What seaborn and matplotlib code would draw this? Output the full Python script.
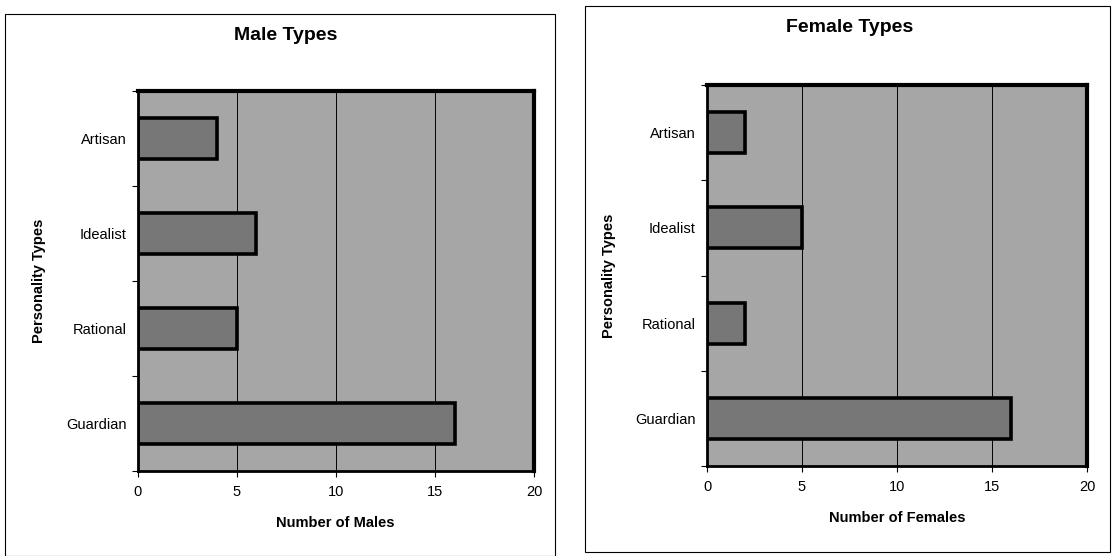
import numpy as np
import pandas as pd
import seaborn as sns
import matplotlib.pyplot as plt
from matplotlib.patches import Rectangle

types = ["Artisan", "Idealist", "Rational", "Guardian"]
males = [4, 6, 5, 16]
females = [2, 5, 2, 16]

sns.set_style("white", {"text.color": "black", "axes.labelcolor": "black",
                        "xtick.color": "black", "ytick.color": "black"})
plt.rcParams['font.family'] = ['Liberation Sans', 'DejaVu Sans']

fig = plt.figure(figsize=(11.14, 5.56), dpi=100)

# panel borders
fig.add_artist(Rectangle((5 / 1114, 0.0), 550 / 1114, 1 - 14 / 556, transform=fig.transFigure,
                         fill=False, edgecolor="black", linewidth=0.8))
fig.add_artist(Rectangle((585 / 1114, 4 / 556), 525 / 1114, 1 - 10 / 556, transform=fig.transFigure,
                         fill=False, edgecolor="black", linewidth=0.8))

ax1 = fig.add_axes([137.5 / 1114, 1 - 471 / 556, 396.5 / 1114, 380 / 556])
ax2 = fig.add_axes([707 / 1114, 1 - 466 / 556, 380 / 1114, 381 / 556])


def draw(ax, vals, xlabel):
    df = pd.DataFrame({"type": types, "n": vals})
    ax.set_facecolor("#a6a6a6")
    for x in [5, 10, 15]:
        ax.axvline(x, color="black", linewidth=0.7, zorder=0.5)
    sns.barplot(data=df, x="n", y="type", order=types, orient="h", ax=ax,
                color="#777777", saturation=1, width=0.43,
                edgecolor="black", linewidth=2.6, zorder=2)
    ax.set_xlim(0, 20)
    ax.set_ylim(3.5, -0.5)
    ax.set_xticks([0, 5, 10, 15, 20])
    ax.tick_params(axis="x", length=4, width=0.8, direction="out", labelsize=10.5, pad=6, bottom=True)
    ax.tick_params(axis="y", which="major", length=0, labelsize=10.5, pad=8)
    ax.set_yticks([-0.5, 0.5, 1.5, 2.5, 3.5], minor=True)
    ax.tick_params(axis="y", which="minor", length=4, width=0.8, direction="out", left=True)
    for side in ["left", "bottom"]:
        ax.spines[side].set_linewidth(2)
    for side in ["top", "right"]:
        ax.spines[side].set_linewidth(3)
    for s in ax.spines.values():
        s.set_color("black")
        s.set_visible(True)
    ax.set_xlabel(xlabel, fontsize=10.5, fontweight="bold", labelpad=12)
    ax.set_ylabel("Personality Types", fontsize=10.5, fontweight="bold", labelpad=14)


draw(ax1, males, "Number of Males")
draw(ax2, females, "Number of Females")

fig.text(286 / 1114, 1 - 36 / 556, "Male Types", ha="center", va="center",
         fontsize=14, fontweight="bold")
fig.text(850 / 1114, 1 - 28 / 556, "Female Types", ha="center", va="center",
         fontsize=14, fontweight="bold")

fig.savefig("out.png", dpi=100)
